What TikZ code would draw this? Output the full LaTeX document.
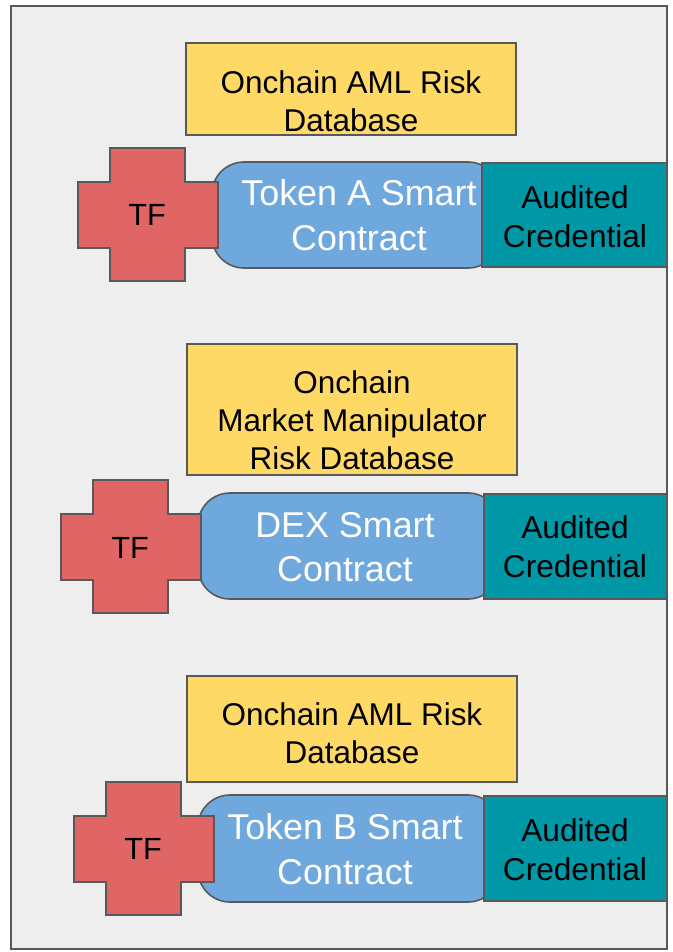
\documentclass[tikz,border=0pt]{standalone}
\usepackage{fontspec}
\setmainfont{Liberation Sans}
\usetikzlibrary{fit}
\definecolor{bgframe}{HTML}{EEEEEE}
\definecolor{edgegray}{HTML}{595959}
\definecolor{dbyellow}{HTML}{FFD966}
\definecolor{scblue}{HTML}{6FA8DC}
\definecolor{tfred}{HTML}{E06666}
\definecolor{credteal}{HTML}{0097A7}
\tikzset{
  frame/.style={draw=edgegray, line width=1.5pt, fill=bgframe, inner sep=0pt},
  dbbox/.style={draw=edgegray, line width=1pt, fill=dbyellow, inner sep=0pt},
  scbox/.style={draw=edgegray, line width=1.2pt, fill=scblue, inner sep=0pt, rounded corners=24pt},
  credbox/.style={draw=edgegray, line width=1.2pt, fill=credteal, inner sep=0pt},
  tfcross/.style={draw=edgegray, line width=1.2pt, fill=tfred},
  dbtext/.style={font=\fontsize{23.6}{28.5}\selectfont, align=center, inner sep=0pt},
  sctext/.style={font=\fontsize{26.9}{33.5}\selectfont, align=center, text=white, inner sep=0pt},
  credtext/.style={font=\fontsize{23.7}{29}\selectfont, align=center, inner sep=0pt},
  tftext/.style={font=\fontsize{23}{28}\selectfont, inner sep=0pt},
  plussign/.pic={
    \path[tfcross] (32,0) -- ++(75,0) -- ++(0,34) -- ++(33,0) -- ++(0,66)
      -- ++(-33,0) -- ++(0,33) -- ++(-75,0) -- ++(0,-33) -- ++(-32,0)
      -- ++(0,-66) -- ++(32,0) -- cycle;
  },
}
\begin{document}
\begin{tikzpicture}[x=0.75pt, y=-0.75pt]
\useasboundingbox (0,0) rectangle (673,952);
\node[frame, fit={(11,6) (667,949)}] (frame) {};

% ---------- section 1 ----------
\node[dbbox, fit={(186,43) (516,135)}] (db1) {};
\node[dbtext] (db1t) at (351,101) {Onchain AML Risk\\Database};
\node[scbox, fit={(212,162) (500,268)}] (sc1) {};
\node[credbox, fit={(482,163) (667,267)}] (cr1) {};
\pic at (78,148) {plussign};
\node[sctext] (sc1t) at (359,215.5) {Token A Smart\\Contract};
\node[credtext] (cr1t) at (575,216.5) {Audited\\Credential};
\node[tftext] (tf1) at (147,215) {TF};

% ---------- section 2 ----------
\node[dbbox, fit={(187,344) (517,475)}] (db2) {};
\node[dbtext] (db2t) at (352,420) {Onchain\\Market Manipulator\\Risk Database};
\node[scbox, fit={(198,493) (500,599)}] (sc2) {};
\node[credbox, fit={(484,494) (667,599)}] (cr2) {};
\pic at (61,480) {plussign};
\node[sctext] (sc2t) at (345,547) {DEX Smart\\Contract};
\node[credtext] (cr2t) at (575,547) {Audited\\Credential};
\node[tftext] (tf2) at (130,548) {TF};

% ---------- section 3 ----------
\node[dbbox, fit={(187,676) (517,782)}] (db3) {};
\node[dbtext] (db3t) at (352,733) {Onchain AML Risk\\Database};
\node[scbox, fit={(198,795) (500,902)}] (sc3) {};
\node[credbox, fit={(484,796) (667,901)}] (cr3) {};
\pic at (74,782) {plussign};
\node[sctext] (sc3t) at (345,849.5) {Token B Smart\\Contract};
\node[credtext] (cr3t) at (575,849.5) {Audited\\Credential};
\node[tftext] (tf3) at (143,849) {TF};
\end{tikzpicture}
\end{document}
